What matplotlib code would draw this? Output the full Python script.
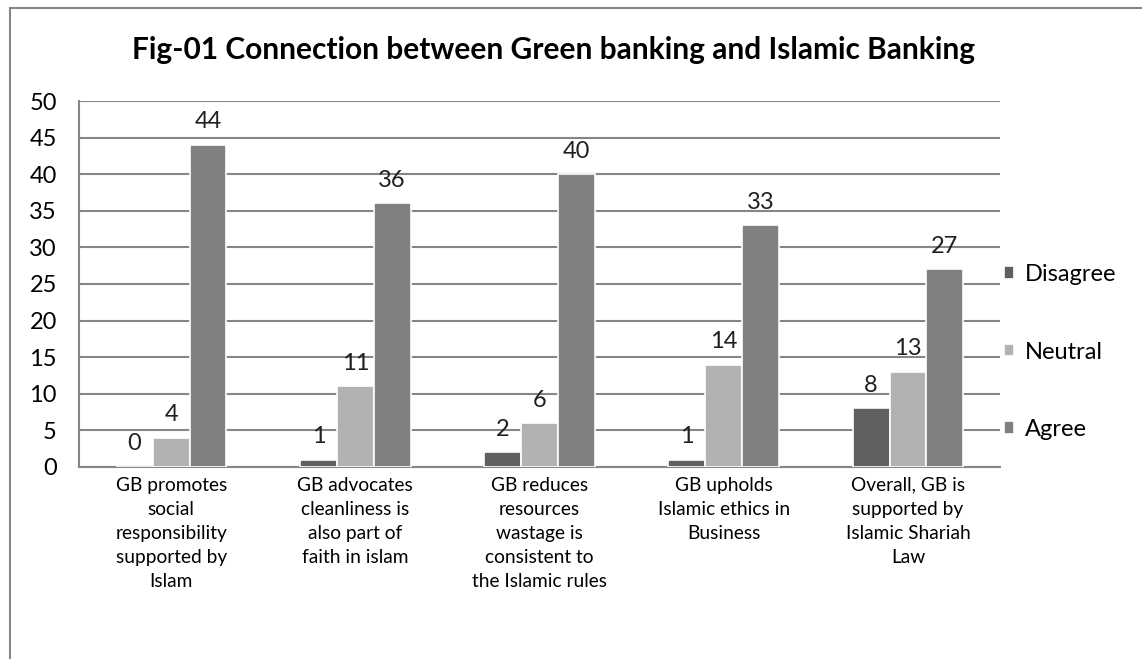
import numpy as np
import matplotlib.pyplot as plt
from matplotlib.patches import Rectangle

# ==========================================
# DATA
# ==========================================

categories = [
    "GB promotes\nsocial\nresponsibility\nsupported by\nIslam",
    "GB advocates\ncleanliness is\nalso part of\nfaith in islam",
    "GB reduces\nresources\nwastage is\nconsistent to\nthe Islamic rules",
    "GB upholds\nIslamic ethics in\nBusiness",
    "Overall, GB is\nsupported by\nIslamic Shariah\nLaw",
]
series_names = ["Disagree", "Neutral", "Agree"]
disagree = [0, 1, 2, 1, 8]
neutral = [4, 11, 6, 14, 13]
agree = [44, 36, 40, 33, 27]
colors = ["#606060", "#b2b2b2", "#808080"]

title = "Fig-01 Connection between Green banking and Islamic Banking"

# ==========================================
# PLOT
# ==========================================

plt.rcParams["font.family"] = ["Lato", "DejaVu Sans"]

fig = plt.figure(figsize=(11.42, 6.59), dpi=100)
ax = fig.add_axes([0.0692, 0.2914, 0.8065, 0.5553])

x = np.arange(len(categories))
width = 0.2
for i, (name, vals) in enumerate(zip(series_names, [disagree, neutral, agree])):
    pos = x + (i - 1) * width
    ax.bar(pos, vals, width=width, color=colors[i], edgecolor="white",
           linewidth=1.2, label=name, zorder=3)
    for p, v in zip(pos, vals):
        ax.annotate(str(v), (p, v), xytext=(0, 9), textcoords="offset points",
                    ha="center", va="bottom", fontsize=17, color="#202020")

ax.set_xlim(-0.5, len(categories) - 0.5)
ax.set_ylim(0, 50)
ax.set_yticks(range(0, 51, 5))
ax.yaxis.grid(True, color="#868686", linewidth=1.5, zorder=0)
ax.set_axisbelow(True)

for side in ["top", "right"]:
    ax.spines[side].set_visible(False)
ax.spines["left"].set_color("#868686")
ax.spines["left"].set_linewidth(1.5)
ax.spines["bottom"].set_color("#868686")
ax.spines["bottom"].set_linewidth(1.5)

ax.set_xticks(x)
ax.set_xticklabels(categories, fontsize=13.8, linespacing=1.5, va="top")
ax.tick_params(axis="x", length=0, pad=7)
ax.tick_params(axis="y", length=0, pad=16, labelsize=17)

fig.text(0.485, 0.924, title, ha="center", va="center",
         fontsize=21.5, fontweight="bold")

ax.legend(loc="center left", bbox_to_anchor=(0.981, 0.314), frameon=False,
          fontsize=17, labelspacing=2.4, handlelength=0.45, handleheight=0.45,
          handletextpad=0.45)

fig.patches.append(Rectangle((10 / 1142, -0.05), 1.2, 1 - 8 / 659 + 0.05,
                             transform=fig.transFigure, fill=False,
                             edgecolor="#868686", linewidth=1.5))

plt.savefig("out.png", dpi=100)
